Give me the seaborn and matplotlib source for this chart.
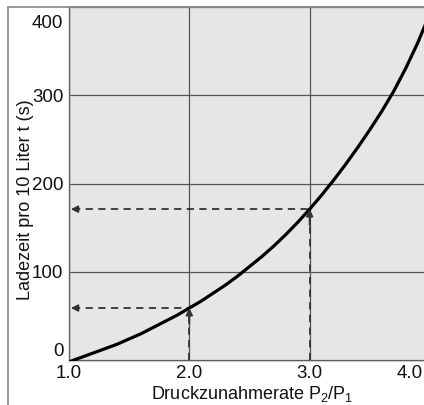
import matplotlib
matplotlib.use("Agg")
import matplotlib.pyplot as plt
from matplotlib.lines import Line2D
import matplotlib.transforms as mtransforms
import seaborn as sns
import pandas as pd

# ---- data ----
pressure_ratio = [1.0, 1.1, 1.2, 1.3, 1.4, 1.5, 1.6, 1.7, 1.8, 1.9, 2.0,
                  2.1, 2.2, 2.3, 2.4, 2.5, 2.6, 2.7, 2.8, 2.9, 3.0,
                  3.1, 3.2, 3.3, 3.4, 3.5, 3.6, 3.7, 3.8, 3.9, 4.0]
charge_time = [-2, 3, 8, 13, 18, 24, 30, 37, 44, 51, 59,
               67, 76, 85, 95, 106, 117, 129, 142, 156, 171,
               187, 204, 222, 241, 261, 282, 305, 331, 360, 393]
marked_ratios = [2.0, 3.0]
marked_times = [59, 171]
x_ticks = [1.0, 2.0, 3.0, 4.0]
x_tick_labels = ["1.0", "2.0", "3.0", "4.0"]
y_ticks = [0, 100, 200, 300, 400]
y_tick_labels = ["0", "100", "200", "300", "400"]
x_label = "Druckzunahmerate P$_2$/P$_1$"
y_label = "Ladezeit pro 10 Liter t (s)"

sns.set_theme(style="white")
plt.rcParams["font.family"] = ["Liberation Sans", "DejaVu Sans"]
plt.rcParams["mathtext.fontset"] = "custom"
plt.rcParams["mathtext.rm"] = "Liberation Sans"
plt.rcParams["mathtext.it"] = "Liberation Sans"

W, H = 424, 405
fig = plt.figure(figsize=(W / 100, H / 100), dpi=100)
left_px, right_px, top_px, bottom_px = 69, 430, 7, 361
ax = fig.add_axes([left_px / W, 1 - bottom_px / H,
                   (right_px - left_px) / W, (bottom_px - top_px) / H])
ax.set_facecolor("#e6e6e6")

df = pd.DataFrame({"ratio": pressure_ratio, "time": charge_time})
sns.lineplot(data=df, x="ratio", y="time", ax=ax, color="black", lw=2.3,
             zorder=5)

ax.set_xlim(1.0, 4.0)
ax.set_ylim(-1, 400)
ax.set_xticks(x_ticks)
ax.set_xticklabels(x_tick_labels, fontsize=13.5)
ax.set_yticks(y_ticks)
ax.set_yticklabels(y_tick_labels, fontsize=13.5)
ax.tick_params(axis="both", length=0, colors="#111111")
ax.tick_params(axis="x", pad=3)
ax.tick_params(axis="y", pad=4)
ylabs = ax.get_yticklabels()
ylabs[0].set_va("bottom")
ylabs[-1].set_va("top")
ylabs[-1].set_transform(ylabs[-1].get_transform() +
                        mtransforms.ScaledTranslation(0, -6 / 72, fig.dpi_scale_trans))
xlabs = ax.get_xticklabels()
xlabs[-1].set_ha("right")
xlabs[-1].set_transform(xlabs[-1].get_transform() +
                        mtransforms.ScaledTranslation(-7 / 100, 0, fig.dpi_scale_trans))

ax.grid(True, color="#555555", lw=0.9)
ax.set_axisbelow(True)

ax.spines["right"].set_visible(False)
ax.spines["left"].set_color("#666666")
ax.spines["left"].set_linewidth(1.0)
ax.spines["top"].set_color("#888888")
ax.spines["top"].set_linewidth(1.2)
ax.spines["bottom"].set_color("#cfcfcf")
ax.spines["bottom"].set_linewidth(0.8)

ax.set_xlabel(x_label, fontsize=13, color="#111111")
ax.set_ylabel(y_label, fontsize=13, color="#111111")
ax.xaxis.set_label_coords((252 - left_px) / (right_px - left_px), -0.065)
ax.yaxis.set_label_coords((34 - left_px) / (right_px - left_px),
                          (bottom_px - 200) / (bottom_px - top_px))

# dashed read-off lines with arrowheads
dash_col = "#333333"
for xr, yt in zip(marked_ratios, marked_times):
    ax.plot([1.03, xr], [yt, yt], ls=(0, (4, 3)), color=dash_col, lw=1.3, zorder=4)
    ax.plot([xr, xr], [0, yt - 6], ls=(0, (4, 3)), color=dash_col, lw=1.3, zorder=4)
    ax.annotate("", xy=(1.015, yt), xytext=(1.08, yt),
                arrowprops=dict(arrowstyle="-|>", color=dash_col, lw=1.3,
                                mutation_scale=10, shrinkA=0, shrinkB=0), zorder=6)
    ax.annotate("", xy=(xr, yt), xytext=(xr, yt - 18),
                arrowprops=dict(arrowstyle="-|>", color=dash_col, lw=1.3,
                                mutation_scale=10, shrinkA=0, shrinkB=0), zorder=6)

# outer frame lines of the figure
bx = 8 / W
ty = 1 - 7 / H
fig.add_artist(Line2D([bx, bx], [0, ty], color="#888888", lw=1.2))
fig.add_artist(Line2D([bx, 1], [ty, ty], color="#888888", lw=1.2))

fig.savefig("out.png", dpi=100)
